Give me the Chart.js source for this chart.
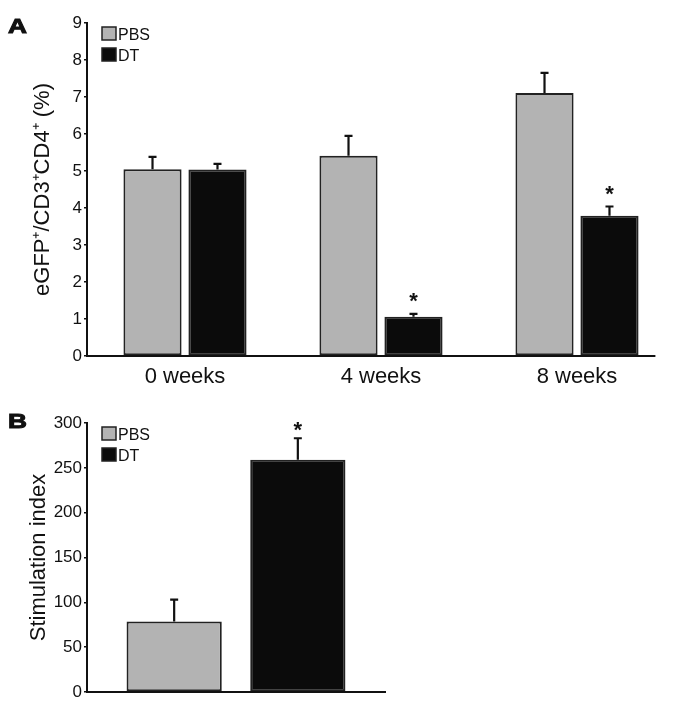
<!DOCTYPE html>
<html>
<head>
<meta charset="utf-8">
<script src="https://cdn.jsdelivr.net/npm/chart.js@4.4.0/dist/chart.umd.min.js"></script>
<style>
  body { margin: 0; background: #fff; width: 677px; height: 712px; position: relative; overflow: hidden;
         font-family: "Liberation Sans", Arial, sans-serif; }
  #wrapA { position: absolute; left: 0; top: 0; width: 677px; height: 395px; }
  #wrapB { position: absolute; left: 0; top: 395px; width: 677px; height: 317px; }
  .panel { position: absolute; font-weight: 900; font-size: 21px; color: #111; line-height: 1;
           transform: scaleX(1.25); transform-origin: left top; -webkit-text-stroke: 1px #111; }
</style>
</head>
<body>
<div id="wrapA"><canvas id="chartA"></canvas></div>
<div id="wrapB"><canvas id="chartB"></canvas></div>
<div class="panel" style="left:8px;top:15px">A</div>
<div class="panel" style="left:8px;top:410px">B</div>

<script>
// Panel A - % eGFP+ among CD3+CD4+
const weeks = ['0 weeks', '4 weeks', '8 weeks'];
const pbsPct = [5.05, 5.41, 7.11];
const pbsPctErr = [0.33, 0.54, 0.54];
const dtPct = [5.04, 1.06, 3.79];
const dtPctErr = [0.15, 0.08, 0.25];
const dtPctSig = [false, true, true];

// Panel B - stimulation index
const stimLabels = [''];
const pbsStim = [78.5];
const pbsStimErr = [24.5];
const dtStim = [259];
const dtStimErr = [24];
const dtStimSig = [true];

const FONT = '"Liberation Sans", Arial, sans-serif';
const INK = '#111';
const GREY = '#b3b3b3';
const BLACK = '#0b0b0b';

// error bars (upper half only) + significance stars
const errorBars = {
  id: 'errorBars',
  afterDatasetsDraw(chart, args, opts) {
    const ctx = chart.ctx;
    const y = chart.scales.y;
    ctx.save();
    chart.data.datasets.forEach((ds, i) => {
      const meta = chart.getDatasetMeta(i);
      meta.data.forEach((bar, j) => {
        const top = y.getPixelForValue(ds.data[j] + ds.errors[j]);
        ctx.strokeStyle = INK;
        ctx.lineWidth = 2.2;
        ctx.beginPath();
        ctx.moveTo(bar.x, bar.y);
        ctx.lineTo(bar.x, top);
        ctx.moveTo(bar.x - 4, top);
        ctx.lineTo(bar.x + 4, top);
        ctx.stroke();
        if (ds.sig && ds.sig[j]) {
          ctx.fillStyle = INK;
          ctx.font = 'bold 22px ' + FONT;
          ctx.textAlign = 'center';
          ctx.textBaseline = 'alphabetic';
          ctx.fillText('*', bar.x, top - opts.starGap);
        }
      });
    });
    ctx.restore();
  }
};

// legend boxes in the top-left corner of the plot
const cornerLegend = {
  id: 'cornerLegend',
  afterDraw(chart) {
    const ctx = chart.ctx;
    const area = chart.chartArea;
    ctx.save();
    chart.data.datasets.forEach((ds, i) => {
      const x = area.left + 15;
      const y = area.top + 4 + i * 21;
      ctx.fillStyle = ds.backgroundColor;
      ctx.fillRect(x, y, 14, 13);
      ctx.strokeStyle = '#222';
      ctx.lineWidth = 1.5;
      ctx.strokeRect(x, y, 14, 13);
      ctx.fillStyle = INK;
      ctx.font = '16px ' + FONT;
      ctx.textAlign = 'left';
      ctx.textBaseline = 'alphabetic';
      ctx.fillText(ds.label, x + 16, y + 12.5);
    });
    ctx.restore();
  }
};

// x axis line that stops a little after the last group
const shortAxis = {
  id: 'shortAxis',
  afterDraw(chart, args, opts) {
    if (!opts.on) return;
    const x = chart.scales.x;
    const last = x.getPixelForValue(x.ticks.length - 1);
    const end = last + x.width / x.ticks.length * opts.tail;
    const ctx = chart.ctx;
    ctx.save();
    ctx.strokeStyle = INK;
    ctx.lineWidth = 2;
    ctx.beginPath();
    ctx.moveTo(chart.chartArea.left - 1, chart.chartArea.bottom);
    ctx.lineTo(end, chart.chartArea.bottom);
    ctx.stroke();
    ctx.restore();
  }
};

function makeChart(id, cfg) {
  return new Chart(document.getElementById(id), {
    type: 'bar',
    data: {
      labels: cfg.labels,
      datasets: [
        { label: 'PBS', data: cfg.pbs, errors: cfg.pbsErr, backgroundColor: GREY,
          borderColor: '#222', borderWidth: 2, borderSkipped: false },
        { label: 'DT', data: cfg.dt, errors: cfg.dtErr, sig: cfg.sig, backgroundColor: BLACK,
          borderColor: '#222', borderWidth: 2, borderSkipped: false }
      ]
    },
    options: {
      responsive: true,
      maintainAspectRatio: false,
      animation: false,
      categoryPercentage: cfg.catPct,
      barPercentage: cfg.barPct,
      layout: { padding: cfg.padding },
      plugins: {
        tooltip: { enabled: false },
        legend: { display: false },
        errorBars: { starGap: cfg.starGap },
        shortAxis: { on: cfg.shortAxis, tail: 0.4 }
      },
      scales: {
        x: {
          grid: { display: false },
          border: { display: !cfg.shortAxis, color: INK, width: 2 },
          ticks: { display: cfg.xTicks, color: INK, font: { family: FONT, size: 22 }, padding: 0 },
          afterFit(s) { s.height = cfg.xHeight; }
        },
        y: {
          min: 0, max: cfg.yMax,
          ticks: { stepSize: cfg.yStep, color: INK, font: { family: FONT, size: 17 }, padding: 2 },
          grid: { drawOnChartArea: false, drawTicks: true, tickLength: 3, color: INK, lineWidth: 1.5 },
          border: { display: true, color: INK, width: 2 },
          title: { display: true, text: cfg.yTitle, color: INK,
                   font: { family: FONT, size: 22 }, padding: { top: cfg.titlePad, bottom: 0 } },
          afterFit(s) { s.width = 87; }
        }
      }
    },
    plugins: [errorBars, cornerLegend, shortAxis]
  });
}

makeChart('chartA', {
  labels: weeks, pbs: pbsPct, pbsErr: pbsPctErr, dt: dtPct, dtErr: dtPctErr, sig: dtPctSig,
  yMax: 9, yStep: 1, yTitle: 'eGFP\u207A/CD3\u207ACD4\u207A (%)', titlePad: 30,
  catPct: 0.663, barPct: 0.895, padding: { top: 23, right: 2, left: 0, bottom: 0 },
  xHeight: 39, xTicks: true, shortAxis: true, starGap: 6
});

makeChart('chartB', {
  labels: stimLabels, pbs: pbsStim, pbsErr: pbsStimErr, dt: dtStim, dtErr: dtStimErr, sig: dtStimSig,
  yMax: 300, yStep: 50, yTitle: 'Stimulation index', titlePad: 26,
  catPct: 0.83, barPct: 0.77, padding: { top: 28, right: 292, left: 0, bottom: 0 },
  xHeight: 20, xTicks: false, shortAxis: false, starGap: 1
});
</script>
</body>
</html>
